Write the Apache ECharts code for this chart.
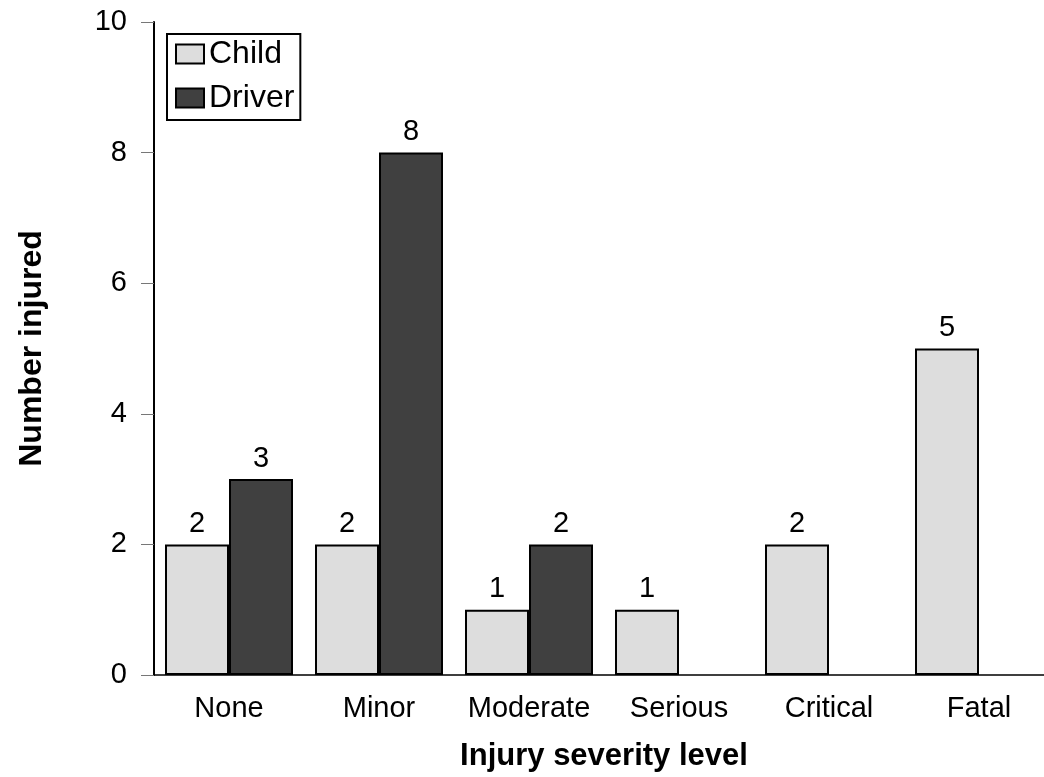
<!DOCTYPE html>
<html>
<head>
<meta charset="utf-8">
<title>Injury severity</title>
<script src="https://cdn.jsdelivr.net/npm/echarts@6/dist/echarts.min.js"></script>
<style>
  html, body { margin: 0; padding: 0; overflow: hidden; background: #ffffff; }
  #chart { width: 1054px; height: 777px; }
</style>
</head>
<body>
<div id="chart"></div>
<script>
// Injury counts by severity level, for the child and for the driver
const categories = ['None', 'Minor', 'Moderate', 'Serious', 'Critical', 'Fatal'];
const childValues = [2, 2, 1, 1, 2, 5];
const driverValues = [3, 8, 2, null, null, null];
const yTicks = [0, 2, 4, 6, 8, 10];

const FONT = '"Liberation Sans", Arial, Helvetica, sans-serif';

const chart = echarts.init(document.getElementById('chart'), null, { renderer: 'canvas' });

const barLabel = {
  show: true,
  position: 'top',
  distance: 6,
  color: '#000000',
  fontFamily: FONT,
  fontSize: 29
};

chart.setOption({
  animation: false,
  backgroundColor: '#ffffff',
  textStyle: { fontFamily: FONT },
  grid: { left: 154, right: 0, top: 22, height: 656, containLabel: false },
  legend: {
    orient: 'vertical',
    left: 167,
    top: 34,
    padding: [4, 6, 6, 8],
    itemGap: 12,
    itemWidth: 28,
    itemHeight: 19,
    borderColor: '#000000',
    borderWidth: 2,
    backgroundColor: '#ffffff',
    textStyle: { fontFamily: FONT, fontSize: 32, color: '#000000' },
    data: [
      { name: 'Child', icon: 'rect' },
      { name: 'Driver', icon: 'rect' }
    ]
  },
  xAxis: {
    type: 'category',
    data: categories,
    name: 'Injury severity level',
    nameLocation: 'middle',
    nameGap: 66,
    nameTextStyle: { fontFamily: FONT, fontSize: 31, fontWeight: 'bold', color: '#000000' },
    axisLine: { lineStyle: { color: '#000000', width: 1.5 } },
    axisTick: { alignWithLabel: true, length: 13, lineStyle: { color: '#777777', width: 1 } },
    axisLabel: { interval: 0, margin: 19, fontFamily: FONT, fontSize: 29, color: '#000000' }
  },
  yAxis: {
    type: 'value',
    min: yTicks[0],
    max: yTicks[yTicks.length - 1],
    interval: yTicks[1] - yTicks[0],
    name: 'Number injured',
    nameLocation: 'middle',
    nameRotate: 90,
    nameGap: 106,
    nameTextStyle: { fontFamily: FONT, fontSize: 32, fontWeight: 'bold', color: '#000000' },
    axisLine: { show: true, lineStyle: { color: '#000000', width: 2 } },
    axisTick: { show: true, length: 13, lineStyle: { color: '#777777', width: 1 } },
    axisLabel: { margin: 27, fontFamily: FONT, fontSize: 29, color: '#000000' },
    splitLine: { show: false }
  },
  series: [
    {
      name: 'Child',
      type: 'bar',
      data: childValues,
      barWidth: 64,
      barGap: '0%',
      itemStyle: { color: '#dddddd', borderColor: '#000000', borderWidth: 2 },
      label: barLabel
    },
    {
      name: 'Driver',
      type: 'bar',
      data: driverValues,
      barWidth: 64,
      barGap: '0%',
      itemStyle: { color: '#404040', borderColor: '#000000', borderWidth: 2 },
      label: barLabel
    }
  ]
});
</script>
</body>
</html>
